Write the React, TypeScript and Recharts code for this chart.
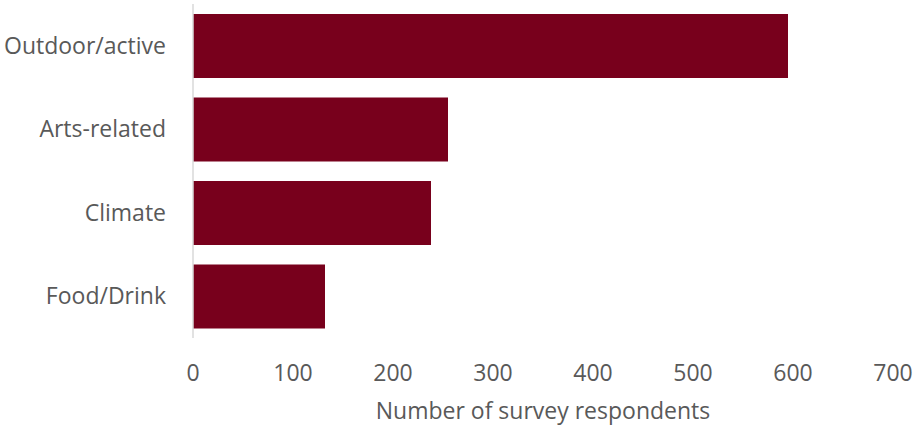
import { BarChart, Bar, XAxis, YAxis } from 'recharts';

const categories = ['Outdoor/active', 'Arts-related', 'Climate', 'Food/Drink'];
const respondents = [595, 255, 238, 132];
const xTicks = [0, 100, 200, 300, 400, 500, 600, 700];

const data = categories.map((name, i) => ({ name, value: respondents[i] }));

const textStyle = { fontFamily: '"Open Sans", sans-serif', fontSize: 23, fill: '#595959' };

const App = () => {
  return (
    <div style={{ position: 'absolute', left: 0, top: 0, background: '#fff' }}>
      <BarChart
        width={915}
        height={426}
        data={data}
        layout="vertical"
        margin={{ top: 4, right: 22, left: 0, bottom: 0 }}
      >
        <XAxis
          type="number"
          domain={[0, 700]}
          ticks={xTicks}
          axisLine={false}
          tickLine={false}
          tickSize={0}
          tickMargin={27}
          height={88}
          tick={textStyle}
          label={{
            value: 'Number of survey respondents',
            position: 'insideBottom',
            offset: 7,
            style: textStyle,
          }}
        />
        <YAxis
          type="category"
          dataKey="name"
          width={193}
          axisLine={{ stroke: '#d9d9d9', strokeWidth: 1.5 }}
          tickLine={false}
          tickSize={0}
          tickMargin={27}
          tick={textStyle}
        />
        <Bar dataKey="value" fill="#78001c" barSize={64} isAnimationActive={false} />
      </BarChart>
    </div>
  );
};

export default App;
